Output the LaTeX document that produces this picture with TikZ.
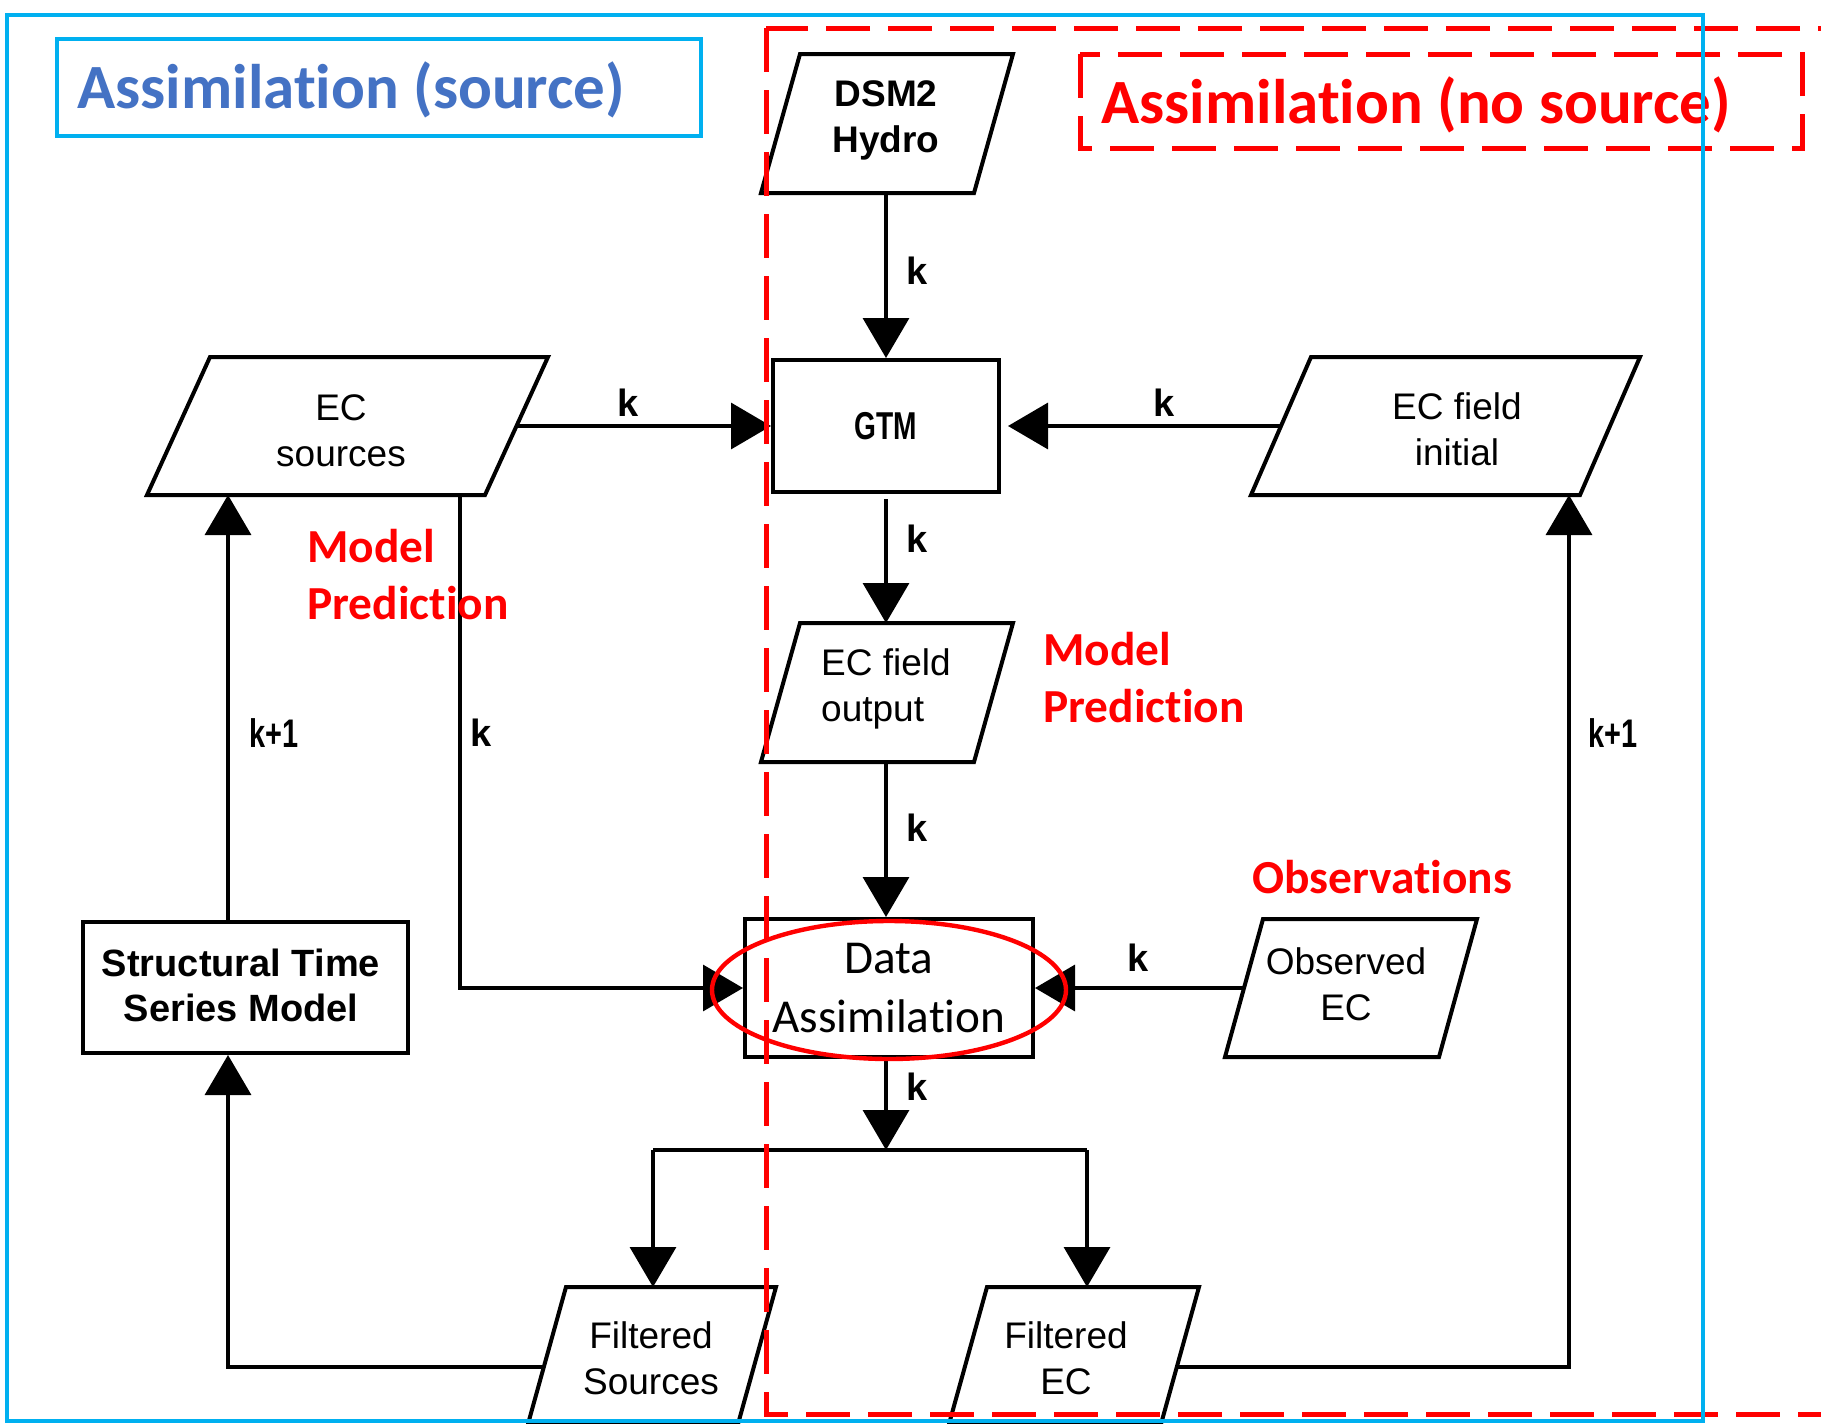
\documentclass[tikz,border=0pt]{standalone}
\usepackage{fontspec}
\setmainfont{Liberation Sans}
\newfontfamily\calib[Ligatures=NoCommon]{Carlito}
\usetikzlibrary{arrows.meta,shapes.geometric}
\definecolor{frameblue}{RGB}{0,176,240}
\definecolor{titleblue}{RGB}{68,114,196}
\definecolor{pred}{RGB}{255,0,0}
\tikzset{
  pbox/.style={draw=black, line width=2pt, line join=miter},
  ptext/.style={inner sep=0pt, align=center, font=\fontsize{18.5}{23}\selectfont},
  sqbox/.style={draw=black, line width=2pt, inner sep=0pt, align=center},
  conn/.style={line width=1.7pt, -{Triangle[width=23pt,length=20pt]}},
  plainline/.style={line width=1.7pt},
  klab/.style={font=\fontsize{19}{23}\selectfont\bfseries, inner sep=0pt},
  redlab/.style={font=\calib\fontsize{23.7}{28.5}\selectfont\bfseries, text=pred, inner sep=0pt, align=left},
  reddash/.style={draw=pred, line width=2.5pt, dash pattern=on 22pt off 9pt},
  bluebox/.style={draw=frameblue, line width=2pt},
}
% name, top-left x, top y, width, height, offset of the bottom edge to the left
\newcommand\parashape[6]{%
  \draw[pbox] (#2,#3) coordinate (#1-tl) -- ++(#4,0) coordinate (#1-tr)
    -- ++(-#6,#5) coordinate (#1-br) -- ++(-#4,0) coordinate (#1-bl) -- cycle;}
\begin{document}
\begin{tikzpicture}[x=0.5pt,y=-0.5pt]
\useasboundingbox (0,0) rectangle (1821,1424);
\clip (0,0) rectangle (1821,1424);
\fill[white] (0,0) rectangle (1821,1424);

% ---------- boxes ----------
\parashape{dsmP}{800}{54}{213}{139}{39}
\node[ptext, font=\fontsize{18.5}{23}\selectfont\bfseries] (dsm) at (886,120) {DSM2\\Hydro};

\node[sqbox, minimum width=113pt, minimum height=66pt] (gtm) at (886,426)
  {\fontsize{18.5}{22}\selectfont\bfseries\scalebox{0.76}[1.05]{GTM}};

\parashape{ecsP}{210}{357}{338}{138}{63}
\node[ptext] (ecs) at (341,431) {EC\\sources};

\parashape{ecfiP}{1311}{357}{329}{138}{60}
\node[ptext] (ecfi) at (1457,429) {EC field\\initial};

\parashape{ecfoP}{800}{623}{213}{139}{39}
\node[ptext, align=left] (ecfo) at (886,689) {EC field\\output};

\node[sqbox, minimum width=144pt, minimum height=69pt,
      font=\calib\fontsize{23.6}{29.5}\selectfont] (da) at (889,988) {Data\\Assimilation};

\parashape{obsP}{1263}{919}{214}{138}{38}
\node[ptext] (obs) at (1346,984) {Observed\\EC};

\parashape{fsP}{566}{1287}{210}{137}{38}
\node[ptext] (fs) at (651,1358) {Filtered\\Sources};

\parashape{feP}{987}{1287}{212}{137}{38}
\node[ptext] (fe) at (1066,1358) {Filtered\\EC};

\node[sqbox, minimum width=162.5pt, minimum height=65.5pt] (stsm) at (245.5,987.5) {};
\node[inner sep=0pt, align=center, font=\fontsize{19}{22.5}\selectfont\bfseries] (stsmtext)
  at (241,985) {Structural Time\\Series Model};

% ---------- connection points ----------
\coordinate (dsmS) at (886,193);
\coordinate (ecsE) at (518,426);
\coordinate (ecsS) at (460,495);
\coordinate (ecfiW) at (1281,426);
\coordinate (ecfoN) at (886,623);
\coordinate (ecfoS) at (886,762);
\coordinate (obsW) at (1243,988);
\coordinate (split) at (886,1150);
\coordinate (splitL) at (653,1150);
\coordinate (splitR) at (1087,1150);
\coordinate (fsN) at (653,1287);
\coordinate (feN) at (1087,1287);
\coordinate (fsW) at (542,1367);
\coordinate (feE) at (1177,1367);
\coordinate (lcol) at (228,495);
\coordinate (rcol) at (1569,495);

% ---------- connectors ----------
\draw[conn] (dsmS) -- (dsmS |- gtm.north);
\draw[conn] (ecsE) -- (gtm.west);
\draw[conn, shorten >=3.5pt] (ecfiW) -- (gtm.east);
\draw[conn, shorten <=2.5pt] (gtm.south) -- (ecfoN);
\draw[conn] (ecfoS) -- (ecfoS |- da.north);
\draw[conn] (ecsS) |- (da.west);
\draw[conn] (obsW) -- (da.east);
\draw[conn] (split |- da.south) -- (split);
\draw[plainline] (splitL) -- (splitR);
\draw[conn] (splitL) -- (fsN);
\draw[conn] (splitR) -- (feN);
\draw[conn] (fsW) -| (lcol |- stsm.south);
\draw[conn] (lcol |- stsm.north) -- (lcol);
\draw[conn] (feE) -| (rcol);

% ---------- connector labels ----------
\node[klab] (k1) at (917,271) {k};
\node[klab] (k2) at (628,403) {k};
\node[klab] (k3) at (1164,403) {k};
\node[klab] (k4) at (917,539) {k};
\node[klab] (k5) at (917,828) {k};
\node[klab] (k6) at (481,733) {k};
\node[klab] (k7) at (1138,958) {k};
\node[klab] (k8) at (917,1087) {k};
\node[klab] (k9) at (274,733) {\scalebox{0.76}[1.05]{k+1}};
\node[klab] (k10) at (1613,733) {\scalebox{0.76}[1.05]{k+1}};

% ---------- red annotations ----------
\node[redlab, anchor=west] (mpL) at (307,575) {Model\\Prediction};
\node[redlab, anchor=west] (mpR) at (1043,678) {Model\\Prediction};
\node[redlab, anchor=base west] (obslab) at (1252,893) {Observations};

\node[draw=pred, line width=2.2pt, ellipse, minimum width=177pt, minimum height=69pt,
      inner sep=0pt] (daell) at (889,990) {};

\draw[reddash] (766,28) rectangle (1850,1414);
\draw[reddash] (1080,54) rectangle (1802,148);
\node[anchor=base west, inner sep=0pt, text=pred,
      font=\calib\fontsize{31.5}{36}\selectfont\bfseries] (titleR) at (1101,123)
  {Assimilation (no source)};

% ---------- blue frame ----------
\draw[bluebox] (57,39) rectangle (701,136);
\node[anchor=base west, inner sep=0pt, text=titleblue,
      font=\calib\fontsize{31.5}{36}\selectfont\bfseries] (titleL) at (77,108)
  {Assimilation (source)};
\draw[bluebox] (7,15) rectangle (1703,1421);
\end{tikzpicture}
\end{document}
